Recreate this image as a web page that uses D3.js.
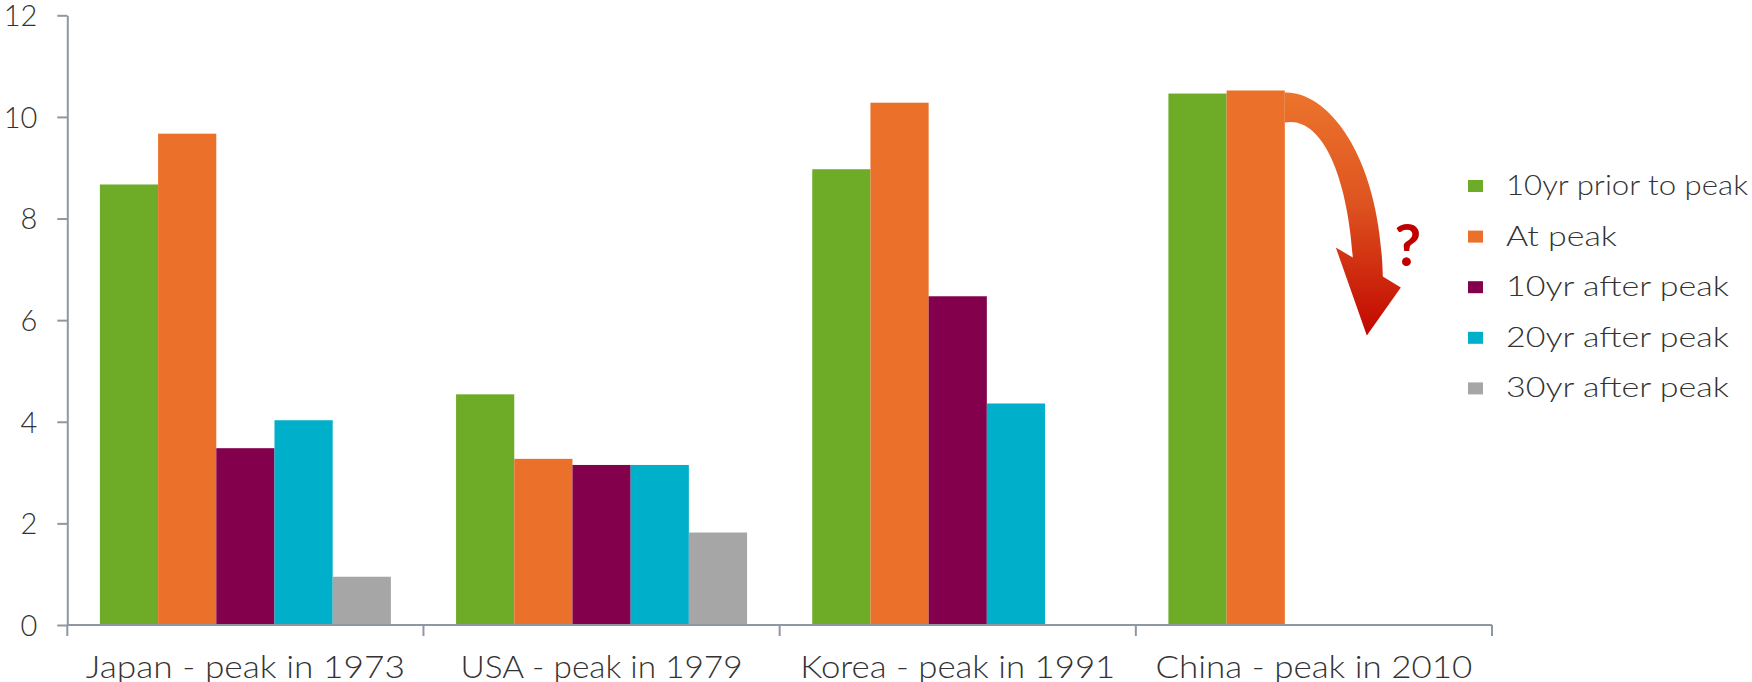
<!DOCTYPE html>
<html>
<head>
<meta charset="utf-8">
<script src="https://cdn.jsdelivr.net/npm/d3@7/dist/d3.min.js"></script>
<style>
  html, body { margin: 0; padding: 0; background: #ffffff; }
  svg { display: block; }
  text { font-family: Lato, "Open Sans", "DejaVu Sans", sans-serif; font-weight: 300; fill: #333333; }
</style>
</head>
<body>
<svg id="chart" width="1752" height="682"></svg>
<script>
// Categories and series
const categories = ["Japan - peak in 1973", "USA - peak in 1979", "Korea - peak in 1991", "China - peak in 2010"];
const seriesNames = ["10yr prior to peak", "At peak", "10yr after peak", "20yr after peak", "30yr after peak"];
const seriesColors = ["#6EAB26", "#EB7029", "#83004C", "#00B0CA", "#A6A6A6"];

// Values per series, one entry per category (null = no data)
const prior10 = [8.67, 4.54, 8.97, 10.46];
const atPeak  = [9.67, 3.27, 10.28, 10.52];
const after10 = [3.48, 3.15, 6.47, null];
const after20 = [4.03, 3.15, 4.36, null];
const after30 = [0.95, 1.82, null, null];
const seriesValues = [prior10, atPeak, after10, after20, after30];

const yTicks = [0, 2, 4, 6, 8, 10, 12];

// Label widths used to fit the labels in their slots
const categoryLabelWidths = [319, 282, 315, 317];
const legendLabelWidths = [242, 111, 223, 223, 223];

const svg = d3.select("#chart");
const axisColor = "#8D98A2";

const plot = { left: 67.3, right: 1492, top: 15.3, bottom: 625 };

const x0 = d3.scaleBand().domain(categories).range([plot.left, plot.right]).paddingInner(0).paddingOuter(0);
const x1 = d3.scaleBand().domain(seriesNames).range([0, x0.bandwidth()]).paddingInner(0).paddingOuter(0.56);
const y = d3.scaleLinear().domain([0, 12]).range([plot.bottom, plot.top]);

// Bars
const rows = [];
categories.forEach((c, ci) => {
  seriesNames.forEach((s, si) => {
    const v = seriesValues[si][ci];
    if (v !== null) rows.push({ category: c, series: s, value: v, color: seriesColors[si] });
  });
});

svg.append("g").selectAll("rect")
  .data(rows)
  .join("rect")
  .attr("x", d => x0(d.category) + x1(d.series))
  .attr("y", d => y(d.value))
  .attr("width", x1.bandwidth())
  .attr("height", d => y(0) - y(d.value))
  .attr("fill", d => d.color);

// Y axis
const yAxis = svg.append("g")
  .attr("transform", `translate(${plot.left},0)`)
  .call(d3.axisLeft(y).tickValues(yTicks).tickSize(10).tickSizeOuter(0).tickPadding(20));
yAxis.select(".domain").attr("stroke", axisColor).attr("stroke-width", 2);
yAxis.selectAll(".tick line").attr("stroke", axisColor).attr("stroke-width", 2);
yAxis.selectAll(".tick text")
  .attr("font-size", 29)
  .attr("fill", "#333333")
  .attr("font-family", "Lato, 'Open Sans', sans-serif")
  .attr("font-weight", 300)
  .attr("dy", "0.36em");

// X axis line with category boundary ticks
const xAxis = svg.append("g");
xAxis.append("line")
  .attr("x1", plot.left).attr("x2", plot.right)
  .attr("y1", y(0)).attr("y2", y(0))
  .attr("stroke", axisColor).attr("stroke-width", 2);
const boundaries = categories.map(c => x0(c)).concat([x0.range()[1]]);
xAxis.selectAll("line.bound")
  .data(boundaries)
  .join("line")
  .attr("class", "bound")
  .attr("x1", d => d).attr("x2", d => d)
  .attr("y1", y(0)).attr("y2", y(0) + 11)
  .attr("stroke", axisColor).attr("stroke-width", 2);

xAxis.selectAll("text")
  .data(categories)
  .join("text")
  .attr("x", d => x0(d) + x0.bandwidth() / 2)
  .attr("y", 678)
  .attr("text-anchor", "middle")
  .attr("font-size", 31)
  .attr("textLength", (d, i) => categoryLabelWidths[i])
  .attr("lengthAdjust", "spacingAndGlyphs")
  .text(d => d);

// Curved arrow falling from China's peak bar
const defs = svg.append("defs");
const grad = defs.append("linearGradient")
  .attr("id", "fallGradient")
  .attr("x1", 0).attr("y1", 0).attr("x2", 0).attr("y2", 1);
grad.append("stop").attr("offset", "0%").attr("stop-color", "#EC742C");
grad.append("stop").attr("offset", "45%").attr("stop-color", "#DE5420");
grad.append("stop").attr("offset", "100%").attr("stop-color", "#C20700");

const china = categories[3];
const ax = x0(china) + x1("At peak") + x1.bandwidth();
const ay = y(atPeak[3]);
const p = d3.path();
p.moveTo(ax, ay + 2);
p.bezierCurveTo(ax + 40, ay, ax + 95, ay + 60, ax + 98, ay + 186);
p.lineTo(ax + 116, ay + 197);
p.lineTo(ax + 82, ay + 245);
p.lineTo(ax + 51, ay + 157);
p.lineTo(ax + 68, ay + 167);
p.bezierCurveTo(ax + 62, ay + 80, ax + 35, ay + 25, ax, ay + 32);
p.closePath();
svg.append("path")
  .attr("d", p.toString())
  .attr("fill", "url(#fallGradient)");

svg.append("text")
  .attr("x", ax + 123)
  .attr("y", ay + 176)
  .attr("text-anchor", "middle")
  .attr("font-size", 58)
  .attr("font-family", "'Liberation Sans', Arial, sans-serif")
  .style("font-weight", 700)
  .style("fill", "#C00000")
  .text("?");

// Legend
const legend = svg.append("g");
const legendItems = legend.selectAll("g")
  .data(seriesNames)
  .join("g")
  .attr("transform", (d, i) => `translate(1468, ${195 + i * 50.6})`);
legendItems.append("rect")
  .attr("x", 0).attr("y", -15)
  .attr("width", 15).attr("height", 12)
  .attr("fill", (d, i) => seriesColors[i]);
legendItems.append("text")
  .attr("x", 38).attr("y", 0)
  .attr("font-size", 27)
  .attr("textLength", (d, i) => legendLabelWidths[i])
  .attr("lengthAdjust", "spacingAndGlyphs")
  .text(d => d);
</script>
</body>
</html>
